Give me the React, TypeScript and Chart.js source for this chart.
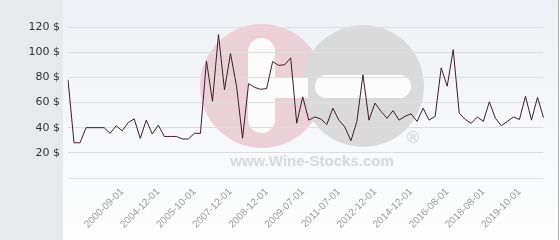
import React, { useEffect, useRef } from 'react';
import { Chart, registerables } from 'chart.js';

Chart.register(...registerables);

const tickLabels = [
  '2000-09-01', '2004-12-01', '2005-10-01', '2007-12-01', '2008-12-01', '2009-07-01',
  '2011-07-01', '2012-12-01', '2014-12-01', '2016-08-01', '2018-08-01', '2019-10-01',
];
const firstTickIndex = 9;
const tickEvery = 6;

const prices = [
  78, 28, 28, 40, 40, 40, 40, 35.5, 41.5, 37.5,
  44, 47, 31.5, 46, 35, 42, 33, 33, 33, 31,
  31, 35.5, 35.5, 93, 61, 114, 70, 99, 73, 31.5,
  75, 72, 70.5, 71, 92.5, 89.5, 90, 95.5, 43.5, 64.5,
  46, 48.5, 47, 42.5, 55.5, 46, 40.5, 29.5, 45, 82,
  46, 59.5, 53, 47.5, 53.5, 46, 49, 51, 45, 55.5,
  46, 49, 87.5, 73, 102, 51.5, 46.5, 43.5, 48.5, 45,
  60.5, 47.5, 41.5, 45, 48.5, 46.5, 65, 46, 64, 48,
];

const yTicks = [0, 20, 40, 60, 80, 100, 120];
const currency = '$';

const labels = prices.map((_, i) => {
  const k = i - firstTickIndex;
  if (k >= 0 && k % tickEvery === 0 && k / tickEvery < tickLabels.length) return tickLabels[k / tickEvery];
  return '';
});

function roundRect(ctx: CanvasRenderingContext2D, x: number, y: number, w: number, h: number, r: number) {
  ctx.beginPath();
  ctx.moveTo(x + r, y);
  ctx.lineTo(x + w - r, y);
  ctx.arcTo(x + w, y, x + w, y + r, r);
  ctx.lineTo(x + w, y + h - r);
  ctx.arcTo(x + w, y + h, x + w - r, y + h, r);
  ctx.lineTo(x + r, y + h);
  ctx.arcTo(x, y + h, x, y + h - r, r);
  ctx.lineTo(x, y + r);
  ctx.arcTo(x, y, x + r, y, r);
  ctx.closePath();
}

const backgroundPlugin = {
  id: 'bgWatermark',
  beforeDraw(chart: any) {
    const ctx: CanvasRenderingContext2D = chart.ctx;
    const { width, height } = chart;
    ctx.save();
    // left panel
    ctx.fillStyle = '#e6eaed';
    ctx.fillRect(0, 0, 63, height);
    // plot panel
    const g = ctx.createLinearGradient(0, 0, 0, height);
    g.addColorStop(0, '#eef1f5');
    g.addColorStop(1, '#fdfdfd');
    ctx.fillStyle = g;
    ctx.fillRect(63, 0, width - 63 - 2, height);
    ctx.strokeStyle = '#b0b0b0';
    ctx.lineWidth = 1;
    ctx.beginPath();
    ctx.moveTo(558.5, 0);
    ctx.lineTo(558.5, height);
    ctx.stroke();

    // watermark
    ctx.fillStyle = '#ecd0d8';
    ctx.beginPath();
    ctx.arc(262, 86, 62, 0, Math.PI * 2);
    ctx.fill();
    ctx.fillStyle = '#dadada';
    ctx.beginPath();
    ctx.arc(363, 86, 61, 0, Math.PI * 2);
    ctx.fill();
    ctx.fillStyle = '#fbfbfc';
    roundRect(ctx, 248, 38, 27, 95, 13.5);
    ctx.fill();
    ctx.fillRect(262, 78, 46, 20);
    roundRect(ctx, 315, 75, 96, 23, 11.5);
    ctx.fill();
    ctx.fillStyle = '#d4d4d4';
    ctx.font = '16px "DejaVu Sans", sans-serif';
    ctx.textAlign = 'center';
    ctx.textBaseline = 'middle';
    ctx.fillText('®', 413, 139);
    ctx.fillStyle = '#d9d9d9';
    ctx.font = 'bold 15px "Liberation Sans", Arial, sans-serif';
    ctx.textBaseline = 'alphabetic';
    ctx.fillText('www.Wine-Stocks.com', 312, 166);
    ctx.restore();
  },
};

export default function App() {
  const ref = useRef<HTMLCanvasElement>(null);
  useEffect(() => {
    if (!ref.current) return;
    const chart = new Chart(ref.current, {
      type: 'line',
      data: {
        labels,
        datasets: [
          {
            data: prices,
            borderColor: '#3b1e2b',
            borderWidth: 1,
            pointRadius: 0,
            tension: 0,
            fill: false,
          },
        ],
      },
      options: {
        animation: false,
        responsive: false,
        maintainAspectRatio: false,
        layout: { padding: { top: 27, right: 5, bottom: 0, left: 0 } },
        plugins: { legend: { display: false }, tooltip: { enabled: false } },
        scales: {
          x: {
            offset: false,
            grid: { display: false, drawTicks: false },
            border: { display: false },
            afterFit: (s: any) => { s.height = 62; },
            ticks: {
              autoSkip: false,
              minRotation: 45,
              maxRotation: 45,
              padding: 8,
              color: '#9a9a9a',
              font: { family: '"Liberation Sans", Arial, sans-serif', size: 10 },
            },
          },
          y: {
            min: 0,
            max: 120,
            afterFit: (s: any) => { s.width = 68; },
            afterBuildTicks: (s: any) => { s.ticks = yTicks.map((v) => ({ value: v })); },
            grid: { color: '#dedede', lineWidth: 1, drawTicks: false },
            border: { display: false },
            ticks: {
              padding: 8,
              color: '#333333',
              font: { family: '"DejaVu Sans", sans-serif', size: 11 },
              callback: (v: any) => (v === 0 ? '' : `${v} ${currency}`),
            },
          },
        },
      },
      plugins: [backgroundPlugin],
    });
    return () => chart.destroy();
  }, []);
  return (
    <div style={{ position: 'fixed', left: 0, top: 0, width: 560, height: 240 }}>
      <canvas ref={ref} width={560} height={240} style={{ width: 560, height: 240 }} />
    </div>
  );
}
